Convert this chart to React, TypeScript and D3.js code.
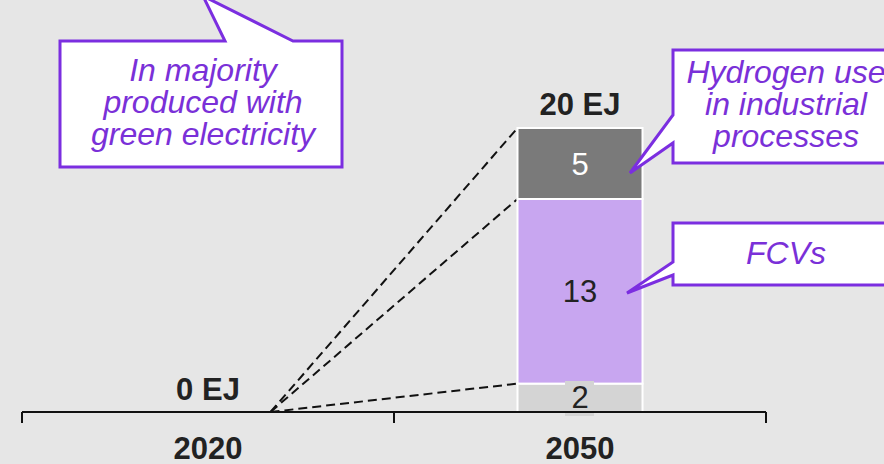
import React from "react";
import * as d3 from "d3";

const categories = ["2020", "2050"];
const segmentNames = ["Other", "FCVs", "Industrial"];
const values2020 = [0, 0, 0];
const values2050 = [2, 13, 5];
const totalLabels = ["0 EJ", "20 EJ"];
const segmentColors = ["#d4d4d4", "#c8a6f0", "#7a7a7a"];
const segmentTextColors = ["#222222", "#222222", "#ffffff"];

const W = 884;
const H = 464;
const PURPLE = "#7b2ee0";
const PURPLE_TEXT = "#7a30d8";

export default function App() {
  const x = d3.scaleBand<string>().domain(categories).range([22, 766]).paddingInner(0).paddingOuter(0);
  const y = d3.scaleLinear().domain([0, 20]).range([412, 128]);
  const barW = 125;
  const series = [values2020, values2050];

  const stackData = categories.map((c, i) => {
    const row: any = { cat: c };
    segmentNames.forEach((s, j) => (row[s] = series[i][j]));
    return row;
  });
  const stacked = d3.stack<any>().keys(segmentNames)(stackData);

  const cx = (c: string) => (x(c) as number) + x.bandwidth() / 2;
  const c2020 = cx("2020");
  const c2050 = cx("2050");
  const origin = [c2020 + barW / 2, y(0)];
  const barLeft = c2050 - barW / 2;
  const totals = series.map((v) => d3.sum(v));
  const boundaries = [totals[1], values2050[0] + values2050[1], values2050[0]];

  const font = "'Liberation Sans', Arial, sans-serif";

  return (
    <div>
      <style>{`body{margin:0;}`}</style>
      <svg width={W} height={H} style={{ display: "block", fontFamily: font }}>
        <rect x={0} y={0} width={W} height={H} fill="#e6e6e6" />

        {/* dashed connector lines */}
        {boundaries.map((b, i) => (
          <line
            key={i}
            x1={origin[0]}
            y1={origin[1]}
            x2={barLeft}
            y2={y(b)}
            stroke="#111"
            strokeWidth={2}
            strokeDasharray="9,5"
          />
        ))}

        {/* stacked bars */}
        {stacked.map((layer, j) =>
          layer.map((d, i) => {
            const h = y(d[0]) - y(d[1]);
            if (h <= 0) return null;
            const c = categories[i];
            return (
              <rect
                key={`${j}-${i}`}
                x={cx(c) - barW / 2}
                y={y(d[1])}
                width={barW}
                height={h}
                fill={segmentColors[j]}
                stroke="#ffffff"
                strokeWidth={2}
              />
            );
          })
        )}

        {/* segment labels */}
        {stacked.map((layer, j) =>
          layer.map((d, i) => {
            const h = y(d[0]) - y(d[1]);
            if (h <= 0) return null;
            const c = categories[i];
            const my = (y(d[0]) + y(d[1])) / 2;
            const val = series[i][j];
            return (
              <g key={`l-${j}-${i}`}>
                {j === 0 && (
                  <rect x={cx(c) - 15} y={381} width={29} height={35} fill={segmentColors[0]} />
                )}
                <text
                  x={cx(c)}
                  y={j === 0 ? 408 : my + 11}
                  textAnchor="middle"
                  fontSize={31}
                  fill={segmentTextColors[j]}
                >
                  {val}
                </text>
              </g>
            );
          })
        )}

        {/* axis */}
        <g stroke="#111" strokeWidth={2} fill="none">
          <line x1={22} y1={y(0)} x2={766} y2={y(0)} />
          {[22, (x("2050") as number), 766].map((t, i) => (
            <line key={i} x1={t} y1={y(0)} x2={t} y2={y(0) + 11} />
          ))}
        </g>
        {categories.map((c) => (
          <text key={c} x={cx(c)} y={459} textAnchor="middle" fontSize={31} fontWeight="bold" fill="#222">
            {c}
          </text>
        ))}

        {/* totals */}
        {categories.map((c, i) => (
          <text
            key={`t-${c}`}
            x={cx(c)}
            y={i === 0 ? 400 : y(totals[i]) - 13}
            textAnchor="middle"
            fontSize={31}
            fontWeight="bold"
            fill="#222"
          >
            {totalLabels[i]}
          </text>
        ))}

        {/* callout left */}
        <path
          d="M60,41 L225,41 L203,-4 L293,41 L342,41 L342,167 L60,167 Z"
          fill="#fff"
          stroke={PURPLE}
          strokeWidth={3}
          strokeLinejoin="miter"
        />
        <g fill={PURPLE_TEXT} fontStyle="italic" fontSize={32} textAnchor="middle">
          <text x={203} y={81}>In majority</text>
          <text x={203} y={113}>produced with</text>
          <text x={203} y={145}>green electricity</text>
        </g>

        {/* callout right top */}
        <path
          d="M673,50 L900,50 L900,163 L673,163 L673,143 L630,173 L673,115 Z"
          fill="#fff"
          stroke={PURPLE}
          strokeWidth={3}
        />
        <g fill={PURPLE_TEXT} fontStyle="italic" fontSize={32} textAnchor="middle">
          <text x={786} y={83}>Hydrogen use</text>
          <text x={786} y={115}>in industrial</text>
          <text x={786} y={147}>processes</text>
        </g>

        {/* callout FCVs */}
        <path
          d="M673,223 L900,223 L900,285 L673,285 L673,275 L627,293 L673,262 Z"
          fill="#fff"
          stroke={PURPLE}
          strokeWidth={3}
        />
        <text x={786} y={264} fill={PURPLE_TEXT} fontStyle="italic" fontSize={32} textAnchor="middle">
          FCVs
        </text>
      </svg>
    </div>
  );
}
